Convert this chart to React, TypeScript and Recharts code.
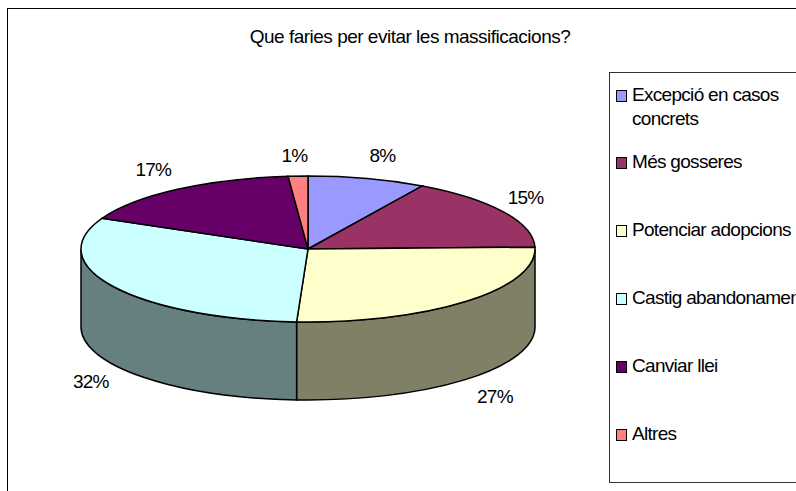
import React from "react"
import { Legend, Pie, PieChart } from "recharts"

const categories = [
  "Excepció en casos concrets",
  "Més gosseres",
  "Potenciar adopcions",
  "Castig abandonament",
  "Canviar llei",
  "Altres",
]
// share of the drawn pie, read from the slice edges (the tilt makes them differ a bit from the printed %)
const sliceShares = [8.4, 16.2, 26.2, 31.1, 16.7, 1.4]
const percentLabels = ["8%", "15%", "27%", "32%", "17%", "1%"]
const topColors = ["#9999FF", "#993366", "#FFFFCC", "#CCFFFF", "#660066", "#FF8080"]
const wallColors = ["#4C4C80", "#4C1933", "#808066", "#668080", "#330033", "#804040"]

const chartData = categories.map((name, i) => ({
  name,
  value: sliceShares[i],
  fill: topColors[i],
}))

const FONT = "'Liberation Sans', Arial, sans-serif"
const WIDTH = 796
const HEIGHT = 491
const CX = 308
const CY = 249
const RX = 227
const RY = 73
const DEPTH = 78

// small per-label corrections so the text sits where the original has it
const labelNudgeX = [6, -8, 4, 7, -4, -2]
const labelNudgeY = [0, -2, 0, 4, 0, 3]

const pointAt = (angle: number, dy = 0) => {
  const rad = (angle * Math.PI) / 180
  return [CX + RX * Math.cos(rad), CY + dy - RY * Math.sin(rad)]
}

function TiltedSlice(props: any) {
  const { startAngle, endAngle, fill, index } = props
  const [x0, y0] = pointAt(startAngle)
  const [x1, y1] = pointAt(endAngle)
  const large = startAngle - endAngle > 180 ? 1 : 0
  const from = Math.min(startAngle, 0)
  const to = Math.max(endAngle, -180)
  let wall = null
  if (from > to) {
    const [wx0, wy0] = pointAt(from)
    const [wx1, wy1] = pointAt(to)
    wall = (
      <path
        d={`M${wx0},${wy0} A${RX},${RY} 0 0 1 ${wx1},${wy1} L${wx1},${wy1 + DEPTH} A${RX},${RY} 0 0 0 ${wx0},${wy0 + DEPTH} Z`}
        fill={wallColors[index]}
        stroke="#000"
        strokeWidth={1.5}
      />
    )
  }
  return (
    <g>
      {wall}
      <path
        d={`M${CX},${CY} L${x0},${y0} A${RX},${RY} 0 ${large} 1 ${x1},${y1} Z`}
        fill={fill}
        stroke="#000"
        strokeWidth={1.5}
      />
    </g>
  )
}

function PercentLabel(props: any) {
  const { midAngle, index } = props
  const rad = (midAngle * Math.PI) / 180
  const x = CX + 262 * Math.cos(rad) + labelNudgeX[index]
  const sinv = Math.sin(rad)
  const y = CY - 97 * sinv + (sinv < 0 ? DEPTH : 0) + labelNudgeY[index]
  return (
    <text
      x={x}
      y={y}
      textAnchor="middle"
      dominantBaseline="central"
      fontFamily={FONT}
      fontSize={19}
      letterSpacing={-0.8}
      fill="#000"
    >
      {percentLabels[index]}
    </text>
  )
}

function LegendBox({ payload }: any) {
  return (
    <div
      style={{
        position: "relative",
        height: 411,
        borderLeft: "1px solid #333",
        borderTop: "1px solid #333",
        borderBottom: "1px solid #333",
        fontFamily: FONT,
        fontSize: 19,
        letterSpacing: -0.7,
        color: "#000",
        boxSizing: "border-box",
        overflow: "hidden",
      }}
    >
      {(payload || []).map((entry: any, i: number) => (
        <div
          key={entry.value}
          style={{
            position: "absolute",
            left: 6,
            top: i === 0 ? 10 : 77 + (i - 1) * 68,
            width: i === 0 ? 178 : 260,
            display: "flex",
            alignItems: "flex-start",
          }}
        >
          <span
            style={{
              width: 9,
              height: 10,
              marginTop: 7,
              marginRight: 5,
              flex: "none",
              background: entry.color,
              border: "1px solid #000",
            }}
          />
          <span style={{ lineHeight: "24px", whiteSpace: i === 0 ? "normal" : "nowrap" }}>{entry.value}</span>
        </div>
      ))}
    </div>
  )
}

export default function App() {
  return (
    <div style={{ position: "absolute", left: 0, top: 0, width: WIDTH, height: HEIGHT, overflow: "hidden", background: "#fff" }}>
      <div style={{ position: "absolute", left: 7, top: 8, width: WIDTH, height: HEIGHT, borderLeft: "1px solid #000", borderTop: "1px solid #000" }} />
      <PieChart width={WIDTH} height={HEIGHT} margin={{ top: 0, right: 0, bottom: 0, left: 0 }} style={{ position: "absolute", left: 0, top: 0 }}>
        <text x={410} y={36} textAnchor="middle" dominantBaseline="central" fontFamily={FONT} fontSize={19} letterSpacing={-0.5} fill="#000">
          Que faries per evitar les massificacions?
        </text>
        <Pie
          data={chartData}
          dataKey="value"
          nameKey="name"
          cx={CX}
          cy={CY}
          outerRadius={RX}
          startAngle={90}
          endAngle={-270}
          shape={TiltedSlice}
          label={PercentLabel}
          labelLine={false}
          isAnimationActive={false}
        />
        <Legend
          content={LegendBox}
          itemSorter={null}
          wrapperStyle={{ position: "absolute", left: 609, top: 72, width: 200, height: 411, bottom: "auto", right: "auto" }}
        />
      </PieChart>
    </div>
  )
}
